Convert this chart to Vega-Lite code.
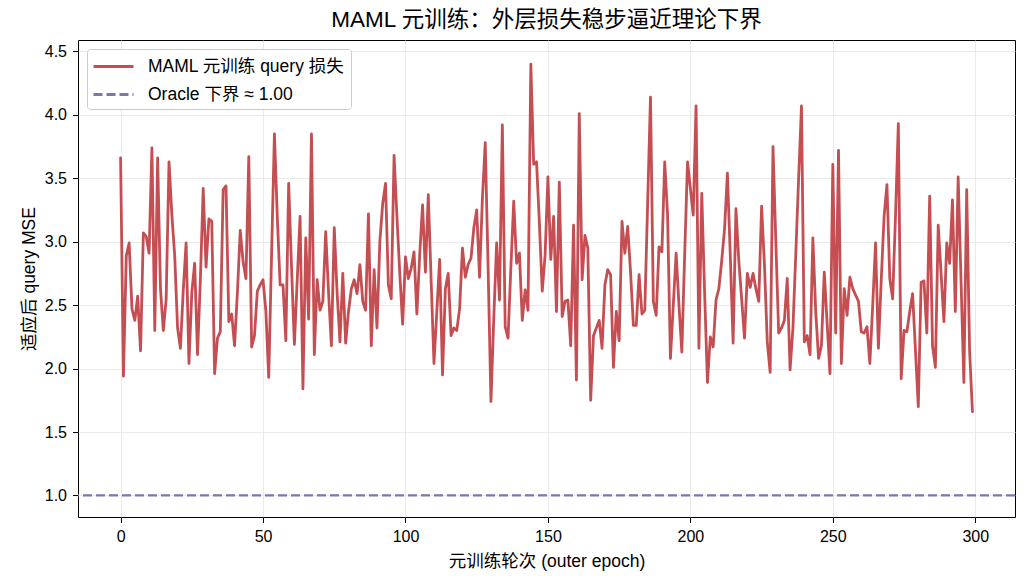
{
  "$schema": "https://vega.github.io/schema/vega-lite/v6.json",
  "width": 937,
  "height": 477,
  "autosize": {"type": "none"},
  "padding": {"left": 78, "top": 40, "right": 12, "bottom": 68},
  "background": "white",
  "config": {
    "font": "Liberation Sans, Noto Sans CJK SC",
    "view": {"stroke": "black", "strokeWidth": 1},
    "axis": {
      "domain": false,
      "grid": true,
      "gridColor": "#e5e5e5",
      "gridWidth": 0.8,
      "tickColor": "black",
      "tickSize": 5.5,
      "labelFontSize": 16,
      "labelColor": "black",
      "labelPadding": 6,
      "titleFontSize": 17.5,
      "titleFontWeight": "normal",
      "titleColor": "black"
    },
    "title": {"fontSize": 22.5, "fontWeight": "normal", "color": "black", "offset": 9}
  },
  "title": "MAML 元训练：外层损失稳步逼近理论下界",
  "datasets": {
    "loss": [
      {"epoch": 0, "mse": 3.66}, {"epoch": 1, "mse": 1.94}, {"epoch": 2, "mse": 2.89}, {"epoch": 3, "mse": 2.99}, {"epoch": 4, "mse": 2.47},
      {"epoch": 5, "mse": 2.38}, {"epoch": 6, "mse": 2.57}, {"epoch": 7, "mse": 2.14}, {"epoch": 8, "mse": 3.07}, {"epoch": 9, "mse": 3.04},
      {"epoch": 10, "mse": 2.91}, {"epoch": 11, "mse": 3.74}, {"epoch": 12, "mse": 2.30}, {"epoch": 13, "mse": 3.66}, {"epoch": 14, "mse": 2.63},
      {"epoch": 15, "mse": 2.30}, {"epoch": 16, "mse": 2.55}, {"epoch": 17, "mse": 3.63}, {"epoch": 18, "mse": 3.21}, {"epoch": 19, "mse": 2.89},
      {"epoch": 20, "mse": 2.32}, {"epoch": 21, "mse": 2.16}, {"epoch": 22, "mse": 2.62}, {"epoch": 23, "mse": 2.99}, {"epoch": 24, "mse": 2.04},
      {"epoch": 25, "mse": 2.60}, {"epoch": 26, "mse": 2.83}, {"epoch": 27, "mse": 2.11}, {"epoch": 28, "mse": 2.70}, {"epoch": 29, "mse": 3.42},
      {"epoch": 30, "mse": 2.80}, {"epoch": 31, "mse": 3.18}, {"epoch": 32, "mse": 3.16}, {"epoch": 33, "mse": 1.96}, {"epoch": 34, "mse": 2.24},
      {"epoch": 35, "mse": 2.29}, {"epoch": 36, "mse": 3.41}, {"epoch": 37, "mse": 3.44}, {"epoch": 38, "mse": 2.37}, {"epoch": 39, "mse": 2.43},
      {"epoch": 40, "mse": 2.18}, {"epoch": 41, "mse": 2.60}, {"epoch": 42, "mse": 3.09}, {"epoch": 43, "mse": 2.84}, {"epoch": 44, "mse": 2.71},
      {"epoch": 45, "mse": 3.67}, {"epoch": 46, "mse": 2.17}, {"epoch": 47, "mse": 2.26}, {"epoch": 48, "mse": 2.61}, {"epoch": 49, "mse": 2.66},
      {"epoch": 50, "mse": 2.70}, {"epoch": 51, "mse": 2.45}, {"epoch": 52, "mse": 1.93}, {"epoch": 53, "mse": 2.90}, {"epoch": 54, "mse": 3.85},
      {"epoch": 55, "mse": 3.20}, {"epoch": 56, "mse": 2.66}, {"epoch": 57, "mse": 2.66}, {"epoch": 58, "mse": 2.22}, {"epoch": 59, "mse": 3.46},
      {"epoch": 60, "mse": 2.80}, {"epoch": 61, "mse": 2.19}, {"epoch": 62, "mse": 2.70}, {"epoch": 63, "mse": 3.20}, {"epoch": 64, "mse": 1.84},
      {"epoch": 65, "mse": 3.03}, {"epoch": 66, "mse": 2.39}, {"epoch": 67, "mse": 3.85}, {"epoch": 68, "mse": 2.11}, {"epoch": 69, "mse": 2.70},
      {"epoch": 70, "mse": 2.46}, {"epoch": 71, "mse": 2.53}, {"epoch": 72, "mse": 3.08}, {"epoch": 73, "mse": 2.60}, {"epoch": 74, "mse": 2.18},
      {"epoch": 75, "mse": 3.11}, {"epoch": 76, "mse": 2.60}, {"epoch": 77, "mse": 2.21}, {"epoch": 78, "mse": 2.75}, {"epoch": 79, "mse": 2.20},
      {"epoch": 80, "mse": 2.45}, {"epoch": 81, "mse": 2.63}, {"epoch": 82, "mse": 2.70}, {"epoch": 83, "mse": 2.59}, {"epoch": 84, "mse": 2.82},
      {"epoch": 85, "mse": 2.53}, {"epoch": 86, "mse": 2.46}, {"epoch": 87, "mse": 3.22}, {"epoch": 88, "mse": 2.18}, {"epoch": 89, "mse": 2.78},
      {"epoch": 90, "mse": 2.32}, {"epoch": 91, "mse": 3.00}, {"epoch": 92, "mse": 3.30}, {"epoch": 93, "mse": 3.46}, {"epoch": 94, "mse": 2.66},
      {"epoch": 95, "mse": 2.55}, {"epoch": 96, "mse": 3.68}, {"epoch": 97, "mse": 3.20}, {"epoch": 98, "mse": 2.75}, {"epoch": 99, "mse": 2.35},
      {"epoch": 100, "mse": 2.88}, {"epoch": 101, "mse": 2.71}, {"epoch": 102, "mse": 2.79}, {"epoch": 103, "mse": 2.92}, {"epoch": 104, "mse": 2.43},
      {"epoch": 105, "mse": 2.90}, {"epoch": 106, "mse": 3.29}, {"epoch": 107, "mse": 2.76}, {"epoch": 108, "mse": 3.37}, {"epoch": 109, "mse": 2.70},
      {"epoch": 110, "mse": 2.04}, {"epoch": 111, "mse": 2.45}, {"epoch": 112, "mse": 2.86}, {"epoch": 113, "mse": 1.95}, {"epoch": 114, "mse": 2.63},
      {"epoch": 115, "mse": 2.75}, {"epoch": 116, "mse": 2.26}, {"epoch": 117, "mse": 2.32}, {"epoch": 118, "mse": 2.30}, {"epoch": 119, "mse": 2.47},
      {"epoch": 120, "mse": 2.95}, {"epoch": 121, "mse": 2.72}, {"epoch": 122, "mse": 2.82}, {"epoch": 123, "mse": 2.87}, {"epoch": 124, "mse": 3.11},
      {"epoch": 125, "mse": 3.25}, {"epoch": 126, "mse": 2.72}, {"epoch": 127, "mse": 3.34}, {"epoch": 128, "mse": 3.78}, {"epoch": 129, "mse": 2.80},
      {"epoch": 130, "mse": 1.74}, {"epoch": 131, "mse": 2.40}, {"epoch": 132, "mse": 2.99}, {"epoch": 133, "mse": 2.54}, {"epoch": 134, "mse": 3.92},
      {"epoch": 135, "mse": 2.33}, {"epoch": 136, "mse": 2.24}, {"epoch": 137, "mse": 2.80}, {"epoch": 138, "mse": 3.32}, {"epoch": 139, "mse": 2.83},
      {"epoch": 140, "mse": 2.91}, {"epoch": 141, "mse": 2.38}, {"epoch": 142, "mse": 2.62}, {"epoch": 143, "mse": 2.46}, {"epoch": 144, "mse": 4.40},
      {"epoch": 145, "mse": 3.61}, {"epoch": 146, "mse": 3.63}, {"epoch": 147, "mse": 3.15}, {"epoch": 148, "mse": 2.61}, {"epoch": 149, "mse": 2.89},
      {"epoch": 150, "mse": 3.51}, {"epoch": 151, "mse": 2.86}, {"epoch": 152, "mse": 3.20}, {"epoch": 153, "mse": 2.45}, {"epoch": 154, "mse": 3.47},
      {"epoch": 155, "mse": 2.41}, {"epoch": 156, "mse": 2.53}, {"epoch": 157, "mse": 2.54}, {"epoch": 158, "mse": 2.18}, {"epoch": 159, "mse": 3.13},
      {"epoch": 160, "mse": 1.91}, {"epoch": 161, "mse": 4.01}, {"epoch": 162, "mse": 2.70}, {"epoch": 163, "mse": 3.05}, {"epoch": 164, "mse": 2.95},
      {"epoch": 165, "mse": 1.75}, {"epoch": 166, "mse": 2.26}, {"epoch": 167, "mse": 2.32}, {"epoch": 168, "mse": 2.38}, {"epoch": 169, "mse": 2.16},
      {"epoch": 170, "mse": 2.66}, {"epoch": 171, "mse": 2.78}, {"epoch": 172, "mse": 2.74}, {"epoch": 173, "mse": 2.01}, {"epoch": 174, "mse": 2.45},
      {"epoch": 175, "mse": 2.22}, {"epoch": 176, "mse": 3.16}, {"epoch": 177, "mse": 2.91}, {"epoch": 178, "mse": 3.12}, {"epoch": 179, "mse": 2.76},
      {"epoch": 180, "mse": 2.34}, {"epoch": 181, "mse": 2.34}, {"epoch": 182, "mse": 2.74}, {"epoch": 183, "mse": 2.43}, {"epoch": 184, "mse": 2.46},
      {"epoch": 185, "mse": 3.30}, {"epoch": 186, "mse": 4.14}, {"epoch": 187, "mse": 2.53}, {"epoch": 188, "mse": 2.42}, {"epoch": 189, "mse": 2.96},
      {"epoch": 190, "mse": 2.92}, {"epoch": 191, "mse": 3.63}, {"epoch": 192, "mse": 3.21}, {"epoch": 193, "mse": 2.08}, {"epoch": 194, "mse": 2.50},
      {"epoch": 195, "mse": 2.91}, {"epoch": 196, "mse": 2.50}, {"epoch": 197, "mse": 2.13}, {"epoch": 198, "mse": 2.90}, {"epoch": 199, "mse": 3.63},
      {"epoch": 200, "mse": 3.42}, {"epoch": 201, "mse": 3.21}, {"epoch": 202, "mse": 4.07}, {"epoch": 203, "mse": 2.16}, {"epoch": 204, "mse": 3.38},
      {"epoch": 205, "mse": 2.60}, {"epoch": 206, "mse": 1.89}, {"epoch": 207, "mse": 2.25}, {"epoch": 208, "mse": 2.17}, {"epoch": 209, "mse": 2.54},
      {"epoch": 210, "mse": 2.63}, {"epoch": 211, "mse": 2.85}, {"epoch": 212, "mse": 3.10}, {"epoch": 213, "mse": 3.54}, {"epoch": 214, "mse": 2.90},
      {"epoch": 215, "mse": 2.20}, {"epoch": 216, "mse": 3.26}, {"epoch": 217, "mse": 2.85}, {"epoch": 218, "mse": 2.55}, {"epoch": 219, "mse": 2.24},
      {"epoch": 220, "mse": 2.75}, {"epoch": 221, "mse": 2.64}, {"epoch": 222, "mse": 2.75}, {"epoch": 223, "mse": 2.63}, {"epoch": 224, "mse": 2.53},
      {"epoch": 225, "mse": 3.28}, {"epoch": 226, "mse": 2.82}, {"epoch": 227, "mse": 2.21}, {"epoch": 228, "mse": 1.97}, {"epoch": 229, "mse": 3.75},
      {"epoch": 230, "mse": 3.00}, {"epoch": 231, "mse": 2.28}, {"epoch": 232, "mse": 2.32}, {"epoch": 233, "mse": 2.38}, {"epoch": 234, "mse": 2.71},
      {"epoch": 235, "mse": 1.99}, {"epoch": 236, "mse": 2.32}, {"epoch": 237, "mse": 2.90}, {"epoch": 238, "mse": 3.50}, {"epoch": 239, "mse": 4.07},
      {"epoch": 240, "mse": 2.21}, {"epoch": 241, "mse": 2.26}, {"epoch": 242, "mse": 2.11}, {"epoch": 243, "mse": 3.03}, {"epoch": 244, "mse": 2.45},
      {"epoch": 245, "mse": 2.08}, {"epoch": 246, "mse": 2.18}, {"epoch": 247, "mse": 2.76}, {"epoch": 248, "mse": 2.36}, {"epoch": 249, "mse": 1.96},
      {"epoch": 250, "mse": 3.61}, {"epoch": 251, "mse": 2.28}, {"epoch": 252, "mse": 3.72}, {"epoch": 253, "mse": 2.04}, {"epoch": 254, "mse": 2.63},
      {"epoch": 255, "mse": 2.42}, {"epoch": 256, "mse": 2.72}, {"epoch": 257, "mse": 2.63}, {"epoch": 258, "mse": 2.58}, {"epoch": 259, "mse": 2.53},
      {"epoch": 260, "mse": 2.29}, {"epoch": 261, "mse": 2.28}, {"epoch": 262, "mse": 2.33}, {"epoch": 263, "mse": 2.04}, {"epoch": 264, "mse": 2.50},
      {"epoch": 265, "mse": 2.99}, {"epoch": 266, "mse": 2.16}, {"epoch": 267, "mse": 2.70}, {"epoch": 268, "mse": 3.20}, {"epoch": 269, "mse": 3.45},
      {"epoch": 270, "mse": 2.71}, {"epoch": 271, "mse": 2.55}, {"epoch": 272, "mse": 3.20}, {"epoch": 273, "mse": 3.93}, {"epoch": 274, "mse": 1.92},
      {"epoch": 275, "mse": 2.30}, {"epoch": 276, "mse": 2.29}, {"epoch": 277, "mse": 2.45}, {"epoch": 278, "mse": 2.59}, {"epoch": 279, "mse": 2.15},
      {"epoch": 280, "mse": 1.70}, {"epoch": 281, "mse": 2.68}, {"epoch": 282, "mse": 2.69}, {"epoch": 283, "mse": 2.28}, {"epoch": 284, "mse": 3.36},
      {"epoch": 285, "mse": 2.18}, {"epoch": 286, "mse": 2.01}, {"epoch": 287, "mse": 3.13}, {"epoch": 288, "mse": 2.75}, {"epoch": 289, "mse": 2.37},
      {"epoch": 290, "mse": 2.99}, {"epoch": 291, "mse": 2.83}, {"epoch": 292, "mse": 3.33}, {"epoch": 293, "mse": 2.45}, {"epoch": 294, "mse": 3.51},
      {"epoch": 295, "mse": 2.70}, {"epoch": 296, "mse": 1.89}, {"epoch": 297, "mse": 3.41}, {"epoch": 298, "mse": 2.15}, {"epoch": 299, "mse": 1.66}
    ],
    "oracle": [{"series": "Oracle 下界 ≈ 1.00", "mse": 1.0}]
  },
  "layer": [
    {
      "data": {"name": "oracle"},
      "mark": {"type": "rule", "strokeWidth": 2.2},
      "encoding": {
        "y": {"field": "mse", "type": "quantitative"},
        "color": {"field": "series", "type": "nominal"},
        "strokeDash": {"field": "series", "type": "nominal"}
      }
    },
    {
      "data": {"name": "loss"},
      "transform": [{"calculate": "'MAML 元训练 query 损失'", "as": "series"}],
      "mark": {"type": "line", "strokeWidth": 2.8, "strokeJoin": "round", "strokeCap": "round"},
      "encoding": {
        "x": {
          "field": "epoch",
          "type": "quantitative",
          "scale": {"domain": [-14.95, 313.95], "nice": false, "zero": false},
          "axis": {"values": [0, 50, 100, 150, 200, 250, 300], "title": "元训练轮次 (outer epoch)", "titlePadding": 8}
        },
        "y": {
          "field": "mse",
          "type": "quantitative",
          "scale": {"domain": [0.83, 4.59], "nice": false, "zero": false},
          "axis": {"values": [1.0, 1.5, 2.0, 2.5, 3.0, 3.5, 4.0, 4.5], "format": ".1f", "title": "适应后 query MSE", "titlePadding": 6}
        },
        "color": {
          "field": "series",
          "type": "nominal",
          "scale": {"domain": ["MAML 元训练 query 损失", "Oracle 下界 ≈ 1.00"], "range": ["#c44e52", "#8172b3"]},
          "legend": {
            "title": null,
            "orient": "top-left",
            "offset": 9,
            "symbolType": "M-2,0H2",
            "symbolSize": 400,
            "symbolStrokeWidth": 2.8,
            "symbolOffset": 9,
            "labelOffset": 23,
            "labelFontSize": 17.5,
            "labelLimit": 400,
            "labelColor": "black",
            "rowPadding": 8,
            "padding": 6,
            "fillColor": "white",
            "strokeColor": "#cccccc",
            "cornerRadius": 3
          }
        },
        "strokeDash": {
          "field": "series",
          "type": "nominal",
          "scale": {"domain": ["MAML 元训练 query 损失", "Oracle 下界 ≈ 1.00"], "range": [[1, 0], [9, 4]]}
        }
      }
    }
  ]
}
